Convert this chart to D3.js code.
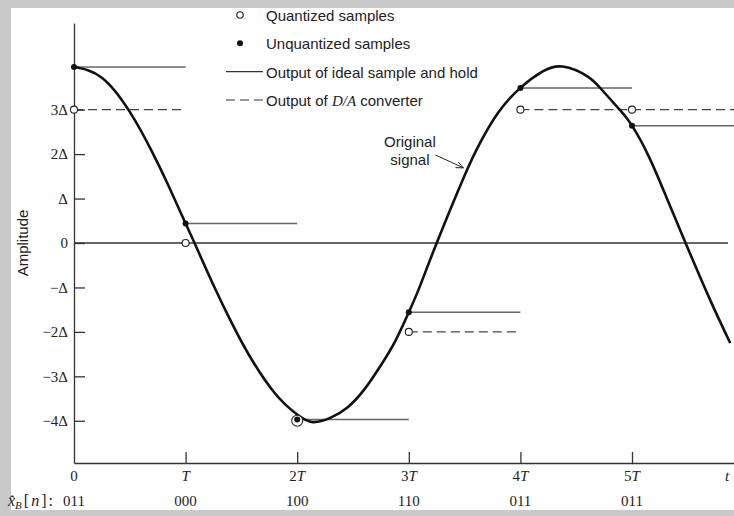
<!DOCTYPE html>
<html>
<head>
<meta charset="utf-8">
<script src="https://cdn.jsdelivr.net/npm/d3@7"></script>
<style>
  body { margin: 0; background: #c9c9c9; }
  svg { display: block; }
</style>
</head>
<body>
<script>
// sample instants (in units of T) and their values (in units of Delta)
var sampleT = [0, 1, 2, 3, 4, 5];
var unquantized = [3.96, 0.44, -3.97, -1.56, 3.49, 2.64];
var quantized = [3, 0, -4, -2, 3, 3];
var codes = ["011", "000", "100", "110", "011", "011"];

// original signal
var signalT = [0, 0.25, 0.5, 0.7, 0.85, 1.0, 1.08, 1.25, 1.42, 1.58, 1.8, 2.0, 2.14, 2.3, 2.45, 2.6, 2.75, 2.88,
               3.0, 3.1, 3.25, 3.5, 3.64, 3.8, 4.0, 4.2, 4.38, 4.6, 4.74, 4.89, 5.0, 5.15, 5.31, 5.48, 5.7, 5.88];
var signalV = [3.96, 3.72, 2.95, 2.05, 1.27, 0.44, 0.0, -0.95, -1.83, -2.57, -3.38, -3.86, -4.03, -3.93, -3.7, -3.3, -2.75, -2.2,
               -1.56, -0.97, 0.0, 1.52, 2.26, 2.93, 3.49, 3.86, 3.97, 3.75, 3.42, 3.0, 2.64, 1.95, 1.02, 0.0, -1.28, -2.25];

var yTicks = [3, 2, 1, 0, -1, -2, -3, -4];
var yTickLabels = ["3Δ", "2Δ", "Δ", "0", "−Δ", "−2Δ", "−3Δ", "−4Δ"];
var xTicks = [1, 2, 3, 4, 5];
var xTickLabels = [["", "T"], ["2", "T"], ["3", "T"], ["4", "T"], ["5", "T"]];

var legendItems = ["Quantized samples", "Unquantized samples", "Output of ideal sample and hold", "Output of D/A converter"];

var serif = "'Liberation Serif','Times New Roman',serif",
    sans = "'Liberation Sans',Arial,sans-serif";

var width = 734, height = 516;

var svg = d3.select("body").append("svg")
    .attr("width", width)
    .attr("height", height);

svg.append("rect")
    .attr("x", 11).attr("y", 8)
    .attr("width", width - 11).attr("height", 502)
    .attr("fill", "#fff");

var x = d3.scaleLinear().domain([0, 6]).range([74, 743.6]);
var y = d3.scaleLinear().domain([-4.95, 4.95]).range([463, 23]);

// dashed D/A output, only where it does not fall on the zero line or the hold line
var dashed = sampleT.map(function(t, i) { return {t: t, q: quantized[i], v: unquantized[i]}; })
  .filter(function(d) { return d.q !== 0 && Math.abs(d.q - d.v) > 0.1; });

svg.append("g").selectAll("line")
  .data(dashed)
  .enter().append("line")
    .attr("x1", function(d) { return x(d.t); })
    .attr("x2", function(d) { return x(d.t + 1); })
    .attr("y1", function(d) { return y(d.q); })
    .attr("y2", function(d) { return y(d.q); })
    .attr("stroke", "#444")
    .attr("stroke-width", 1.3)
    .attr("stroke-dasharray", "9,5");

// ideal sample and hold
svg.append("g").selectAll("line")
  .data(sampleT)
  .enter().append("line")
    .attr("x1", function(d) { return x(d); })
    .attr("x2", function(d) { return x(d + 1); })
    .attr("y1", function(d, i) { return y(unquantized[i]); })
    .attr("y2", function(d, i) { return y(unquantized[i]); })
    .attr("stroke", "#666")
    .attr("stroke-width", 1.5);

// zero line
svg.append("line")
    .attr("x1", x(0)).attr("x2", x(5.86))
    .attr("y1", y(0)).attr("y2", y(0))
    .attr("stroke", "#333")
    .attr("stroke-width", 1.3);

// axes
var xAxis = svg.append("g")
    .attr("transform", "translate(0," + y(-4.95) + ")")
    .call(d3.axisBottom(x).tickValues(xTicks).tickSize(-11).tickSizeOuter(0).tickFormat(""));

var yAxis = svg.append("g")
    .attr("transform", "translate(" + x(0) + ",0)")
    .call(d3.axisLeft(y).tickValues(yTicks).tickSize(-11).tickSizeOuter(0).tickPadding(6)
      .tickFormat(function(d, i) { return yTickLabels[i]; }));

[xAxis, yAxis].forEach(function(a) {
  a.selectAll("path, line").attr("stroke", "#333").attr("stroke-width", 1.3);
});
yAxis.selectAll("text")
    .attr("font-family", serif)
    .attr("font-size", 15)
    .attr("fill", "#222");

// x tick labels with italic T
var xl = svg.append("g")
    .attr("font-family", serif)
    .attr("font-size", 15)
    .attr("fill", "#222")
    .attr("text-anchor", "middle");

xl.append("text").attr("x", x(0)).attr("y", 481).text("0");

var xt = xl.selectAll("text.tl")
  .data(xTicks)
  .enter().append("text")
    .attr("class", "tl")
    .attr("x", function(d) { return x(d); })
    .attr("y", 481);
xt.append("tspan").text(function(d, i) { return xTickLabels[i][0]; });
xt.append("tspan").attr("font-style", "italic").text(function(d, i) { return xTickLabels[i][1]; });

xl.append("text")
    .attr("x", 727).attr("y", 481)
    .attr("font-style", "italic")
    .text("t");

// code words
xl.selectAll("text.code")
  .data(codes)
  .enter().append("text")
    .attr("class", "code")
    .attr("x", function(d, i) { return x(sampleT[i]); })
    .attr("y", 506)
    .text(function(d) { return d; });

var xb = svg.append("text")
    .attr("x", 8).attr("y", 506)
    .attr("font-family", serif)
    .attr("font-size", 16)
    .attr("fill", "#222");
xb.append("tspan").attr("font-style", "italic").text("x\u0302");
xb.append("tspan").attr("font-style", "italic").attr("font-size", 11).attr("dy", 3).text("B");
xb.append("tspan").attr("dy", -3).attr("dx", 2).attr("letter-spacing", 2).text("[");
xb.append("tspan").attr("font-style", "italic").attr("letter-spacing", 2).text("n");
xb.append("tspan").attr("letter-spacing", 2).text("]:");

// y label
svg.append("text")
    .attr("transform", "translate(28,243) rotate(-90)")
    .attr("text-anchor", "middle")
    .attr("font-family", sans)
    .attr("font-size", 15)
    .attr("fill", "#222")
    .text("Amplitude");

// original signal
var line = d3.line()
    .x(function(d) { return x(d); })
    .y(function(d, i) { return y(signalV[i]); })
    .curve(d3.curveNatural);

svg.append("path")
    .datum(signalT)
    .attr("d", line)
    .attr("fill", "none")
    .attr("stroke", "#111")
    .attr("stroke-width", 2.6);

// quantized samples (open circles)
svg.append("g").selectAll("circle")
  .data(sampleT)
  .enter().append("circle")
    .attr("cx", function(d) { return x(d); })
    .attr("cy", function(d, i) { return y(quantized[i]); })
    .attr("r", function(d, i) { return Math.abs(quantized[i] - unquantized[i]) < 0.1 ? 5.5 : 3.5; })
    .attr("fill", "#fff")
    .attr("stroke", "#222")
    .attr("stroke-width", 1.1);

// unquantized samples (dots)
svg.append("g").selectAll("circle")
  .data(sampleT)
  .enter().append("circle")
    .attr("cx", function(d) { return x(d); })
    .attr("cy", function(d, i) { return y(unquantized[i]); })
    .attr("r", 3)
    .attr("fill", "#111");

// annotation
var ann = svg.append("g")
    .attr("font-family", sans)
    .attr("font-size", 15)
    .attr("fill", "#222")
    .attr("text-anchor", "middle");
ann.append("text").attr("x", x(3.01)).attr("y", 147).text("Original");
ann.append("text").attr("x", x(3.01)).attr("y", 165).text("signal");

var tail = [x(3.24), y(1.98)], tip = [x(3.49), y(1.69)];
var ang = Math.atan2(tip[1] - tail[1], tip[0] - tail[0]);
svg.append("line")
    .attr("x1", tail[0]).attr("y1", tail[1])
    .attr("x2", tip[0]).attr("y2", tip[1])
    .attr("stroke", "#222").attr("stroke-width", 1);
[-0.4, 0.4].forEach(function(da) {
  svg.append("line")
      .attr("x1", tip[0]).attr("y1", tip[1])
      .attr("x2", tip[0] - 8 * Math.cos(ang + da))
      .attr("y2", tip[1] - 8 * Math.sin(ang + da))
      .attr("stroke", "#222").attr("stroke-width", 1);
});

// legend
var lg = svg.append("g")
    .attr("font-family", sans)
    .attr("font-size", 15)
    .attr("fill", "#222");
var rowY = [15, 43.3, 71.7, 100];
lg.selectAll("text")
  .data(legendItems)
  .enter().append("text")
    .attr("x", 266)
    .attr("y", function(d, i) { return rowY[i] + 6; })
    .each(function(d, i) {
      var t = d3.select(this);
      if (i === 3) {
        t.append("tspan").text("Output of ");
        t.append("tspan").attr("font-family", serif).attr("font-style", "italic").text("D/A");
        t.append("tspan").text(" converter");
      } else {
        t.text(d);
      }
    });
lg.append("circle").attr("cx", 240).attr("cy", rowY[0]).attr("r", 3.2)
    .attr("fill", "#fff").attr("stroke", "#222").attr("stroke-width", 1.1);
lg.append("circle").attr("cx", 240).attr("cy", rowY[1]).attr("r", 3).attr("fill", "#111");
lg.append("line").attr("x1", 226).attr("x2", 263).attr("y1", rowY[2]).attr("y2", rowY[2])
    .attr("stroke", "#333").attr("stroke-width", 1.2);
lg.append("line").attr("x1", 226).attr("x2", 263).attr("y1", rowY[3]).attr("y2", rowY[3])
    .attr("stroke", "#333").attr("stroke-width", 1.2).attr("stroke-dasharray", "9,5");
</script>
</body>
</html>
